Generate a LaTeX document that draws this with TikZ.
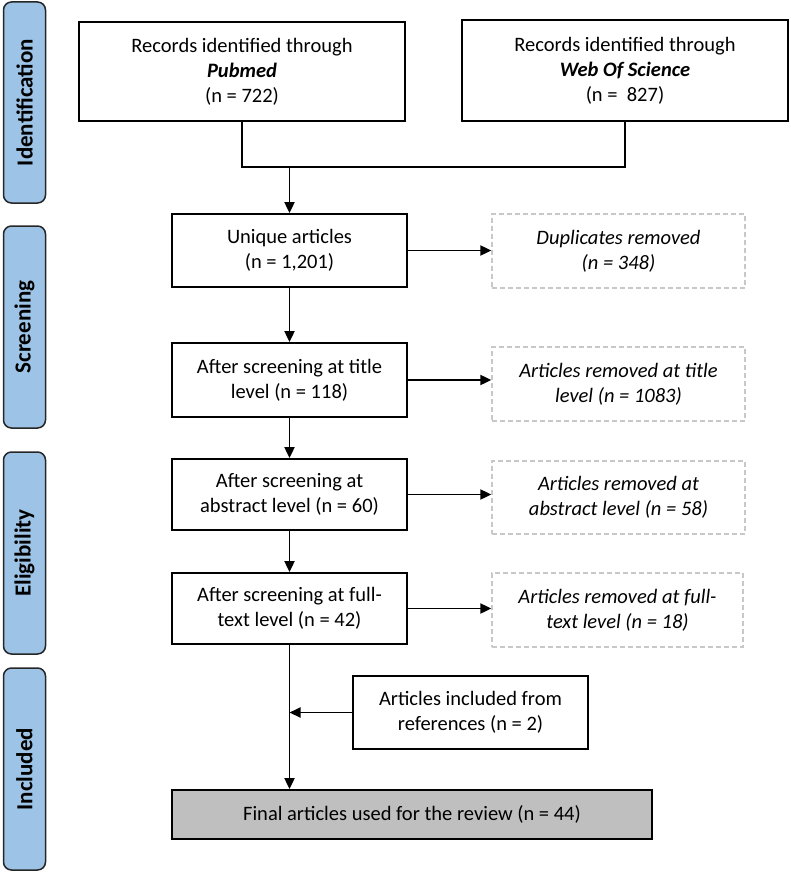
\documentclass[tikz,border=0pt]{standalone}
\usepackage{fontspec}
\setmainfont{Carlito}
\usetikzlibrary{arrows.meta}
\definecolor{barblue}{HTML}{9DC3E6}
\definecolor{dashgray}{HTML}{C8C8C8}
\definecolor{finalgray}{HTML}{BFBFBF}
\tikzset{
  box/.style={draw=black, line width=1.8pt, fill=white, align=center, font=\fontsize{20.5}{25}\selectfont, inner sep=2pt},
  rembox/.style={draw=dashgray, dash pattern=on 5pt off 3pt, line width=1.3pt, fill=white, align=center, font=\fontsize{20.5}{25}\selectfont\itshape, inner sep=2pt},
  bar/.style={draw=black!85, line width=1.5pt, fill=barblue, rounded corners=8pt, minimum width=42pt},
  bartext/.style={rotate=90, font=\fontsize{23}{25}\selectfont\bfseries},
  arr/.style={-{Triangle[length=11pt,width=10pt]}, line width=1.9pt},
  ln/.style={line width=1.9pt}
}
\begin{document}
\begin{tikzpicture}[x=1pt,y=-1pt]
\useasboundingbox (0,0) rectangle (790,872);
% side bars
\node[bar, minimum height=201pt] (bid) at (24.5,102.5) {};
\node[bartext] (tid) at (bid.center) {Identification};
\node[bar, minimum height=202pt] (bsc) at (24.5,327) {};
\node[bartext] (tsc) at (bsc.center) {Screening};
\node[bar, minimum height=202pt] (bel) at (24.5,553) {};
\node[bartext] (tel) at (bel.center) {Eligibility};
\node[bar, minimum height=202pt] (bin) at (24.5,769) {};
\node[bartext] (tin) at (bin.center) {Included};
% boxes
\node[box, minimum width=326pt, minimum height=99pt] (pub) at (242,71.5)
  {Records identified through\\ \textbf{\textit{Pubmed}}\\ (n = 722)};
\node[box, minimum width=326pt, minimum height=101pt] (wos) at (625,70.5)
  {Records identified through\\ \textbf{\textit{Web Of Science}}\\ (n =\ \ 827)};
\node[box, minimum width=235pt, minimum height=73pt] (uni) at (289.5,250.5)
  {Unique articles\\ (n = 1,201)};
\node[rembox, minimum width=253pt, minimum height=74pt] (dup) at (618.5,251)
  {Duplicates removed\\ (n = 348)};
\node[box, minimum width=235pt, minimum height=74pt] (tit) at (289.5,380)
  {After screening at title\\ level (n = 118)};
\node[rembox, minimum width=253pt, minimum height=74pt] (rtit) at (618.5,384)
  {Articles removed at title\\ level (n = 1083)};
\node[box, minimum width=235pt, minimum height=71pt] (abs) at (289.5,494.5)
  {After screening at\\ abstract level (n = 60)};
\node[rembox, minimum width=253pt, minimum height=73pt] (rabs) at (618.5,497.5)
  {Articles removed at\\ abstract level (n = 58)};
\node[box, minimum width=235pt, minimum height=71pt] (ful) at (289.5,608.5)
  {After screening at full-\\ text level (n = 42)};
\node[rembox, minimum width=251pt, minimum height=74pt] (rful) at (617.5,610)
  {Articles removed at full-\\ text level (n = 18)};
\node[box, minimum width=235pt, minimum height=73pt] (ref) at (470.5,712.5)
  {Articles included from\\ references (n = 2)};
\node[box, fill=finalgray, minimum width=480pt, minimum height=49pt] (fin) at (412,814.5)
  {Final articles used for the review (n = 44)};
% connectors
\coordinate (merge) at (289.5,167);
\draw[ln] (pub.south) |- (merge) -| (wos.south);
\draw[arr] (merge) -- (uni.north);
\draw[arr] (uni.east) -- (uni.east -| dup.west);
\draw[arr] (uni.south) -- (tit.north);
\draw[arr] (tit.east) -- (tit.east -| rtit.west);
\draw[arr] (tit.south) -- (abs.north);
\draw[arr] (abs.east) -- (abs.east -| rabs.west);
\draw[arr] (abs.south) -- (ful.north);
\draw[arr] (ful.east) -- (ful.east -| rful.west);
\draw[arr] (ful.south) -- (ful.south |- fin.north);
\draw[arr] (ref.west) -- (ref.west -| ful.south);
\end{tikzpicture}
\end{document}
